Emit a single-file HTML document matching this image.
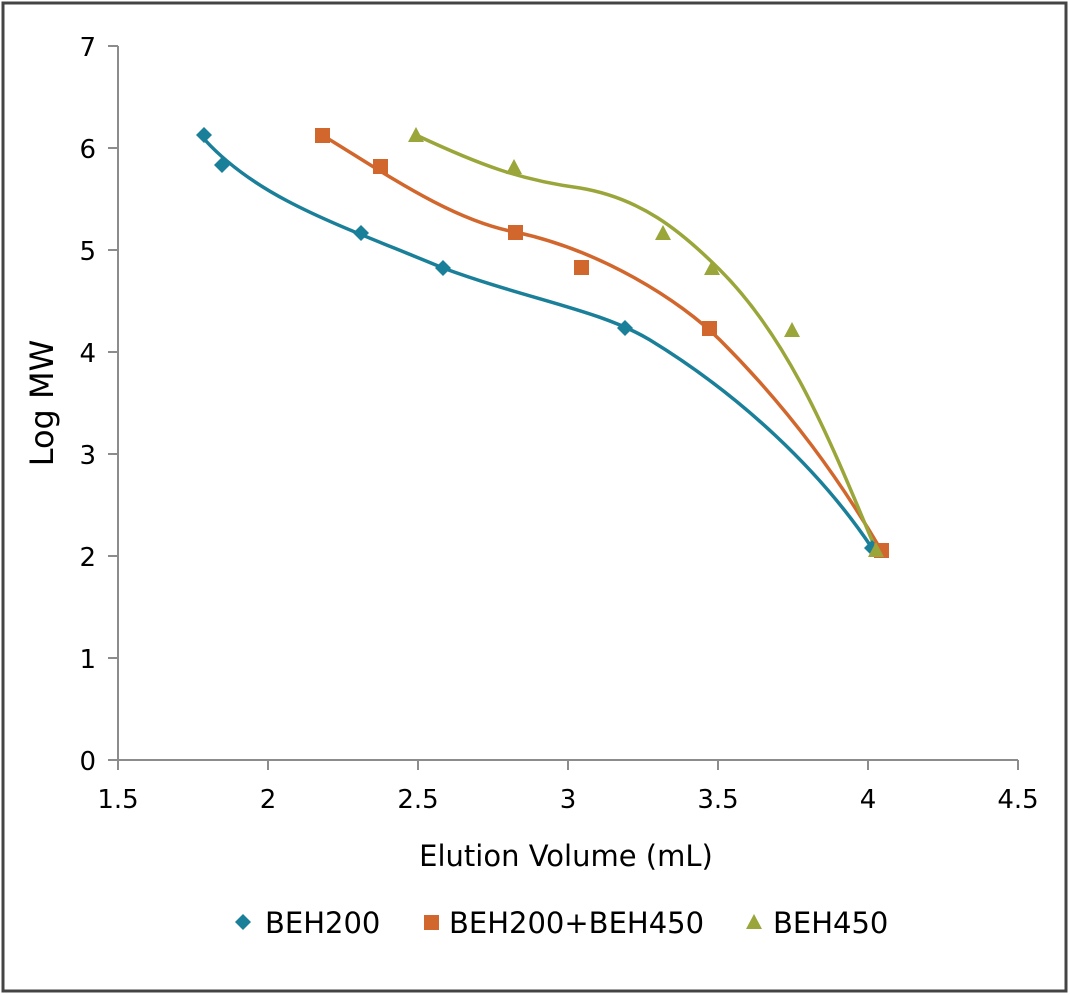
<!DOCTYPE html>
<html><head><meta charset="utf-8"><style>
body{margin:0;background:#fff}
svg{display:block;font-family:"DejaVu Sans","Liberation Sans",sans-serif}
</style></head><body>
<svg width="1070" height="995" viewBox="0 0 1070 995">
<rect x="3" y="3" width="1063" height="988" fill="#fff" stroke="#444" stroke-width="3"/>
<g stroke="#8c8c8c" stroke-width="2" fill="none">
<line x1="118" y1="46" x2="118" y2="760"/>
<line x1="118" y1="760" x2="1018" y2="760"/>
<line x1="108" y1="46" x2="118" y2="46"/>
<line x1="108" y1="148" x2="118" y2="148"/>
<line x1="108" y1="250" x2="118" y2="250"/>
<line x1="108" y1="352" x2="118" y2="352"/>
<line x1="108" y1="454" x2="118" y2="454"/>
<line x1="108" y1="556" x2="118" y2="556"/>
<line x1="108" y1="658" x2="118" y2="658"/>
<line x1="108" y1="760" x2="118" y2="760"/>
<line x1="118" y1="760" x2="118" y2="770"/>
<line x1="268" y1="760" x2="268" y2="770"/>
<line x1="418" y1="760" x2="418" y2="770"/>
<line x1="568" y1="760" x2="568" y2="770"/>
<line x1="718" y1="760" x2="718" y2="770"/>
<line x1="868" y1="760" x2="868" y2="770"/>
<line x1="1018" y1="760" x2="1018" y2="770"/>
</g>
<g font-size="26" fill="#000" text-anchor="end">
<text x="96" y="56">7</text><text x="96" y="158">6</text><text x="96" y="260">5</text>
<text x="96" y="362">4</text><text x="96" y="464">3</text><text x="96" y="566">2</text>
<text x="96" y="668">1</text><text x="96" y="770">0</text>
</g>
<g font-size="26" fill="#000" text-anchor="middle">
<text x="118" y="808">1.5</text><text x="268" y="808">2</text><text x="418" y="808">2.5</text>
<text x="568" y="808">3</text><text x="718" y="808">3.5</text><text x="868" y="808">4</text>
<text x="1018" y="808">4.5</text>
</g>
<text x="566" y="866" font-size="29" text-anchor="middle">Elution Volume (mL)</text>
<text transform="translate(53,403) rotate(-90)" font-size="32" text-anchor="middle">Log MW</text>
<g fill="none" stroke-width="3.5">
<path d="M205,140 C260,200 340,225 443,268 C530,300 600,310 650,340 C740,395 820,470 872,548" stroke="#1a7f99"/>
<path d="M322,135 C380,170 450,220 515,232 C600,250 680,300 720,340 C790,410 840,480 881,550" stroke="#d2672d"/>
<path d="M416,135 C480,165 520,180 580,188 C640,198 680,230 720,270 C790,340 830,440 876,550" stroke="#9aa63a"/>
</g>
<g fill="#1a7f99">
<path d="M204,127 l8,8 -8,8 -8,-8z"/><path d="M222,157 l8,8 -8,8 -8,-8z"/>
<path d="M361,225 l8,8 -8,8 -8,-8z"/><path d="M443,260 l8,8 -8,8 -8,-8z"/>
<path d="M625,320 l8,8 -8,8 -8,-8z"/><path d="M872,540 l8,8 -8,8 -8,-8z"/>
</g>
<g fill="#d2672d">
<rect x="315" y="128" width="15" height="15"/><rect x="373" y="159" width="15" height="15"/>
<rect x="508" y="225" width="15" height="15"/><rect x="574" y="260" width="15" height="15"/>
<rect x="702" y="321" width="15" height="15"/><rect x="874" y="543" width="15" height="15"/>
</g>
<g fill="#9aa63a">
<path d="M416,127 l8,15 -16,0z"/><path d="M514,159 l8,15 -16,0z"/>
<path d="M663,225 l8,15 -16,0z"/><path d="M712,260 l8,15 -16,0z"/>
<path d="M792,322 l8,15 -16,0z"/><path d="M876,542 l8,15 -16,0z"/>
</g>
<path d="M243,914 l8,8 -8,8 -8,-8z" fill="#1a7f99"/>
<text x="265" y="933" font-size="29">BEH200</text>
<rect x="424" y="915" width="15" height="15" fill="#d2672d"/>
<text x="449" y="933" font-size="29">BEH200+BEH450</text>
<path d="M754,914 l8,15 -16,0z" fill="#9aa63a"/>
<text x="773" y="933" font-size="29">BEH450</text>
</svg>
</body></html>
